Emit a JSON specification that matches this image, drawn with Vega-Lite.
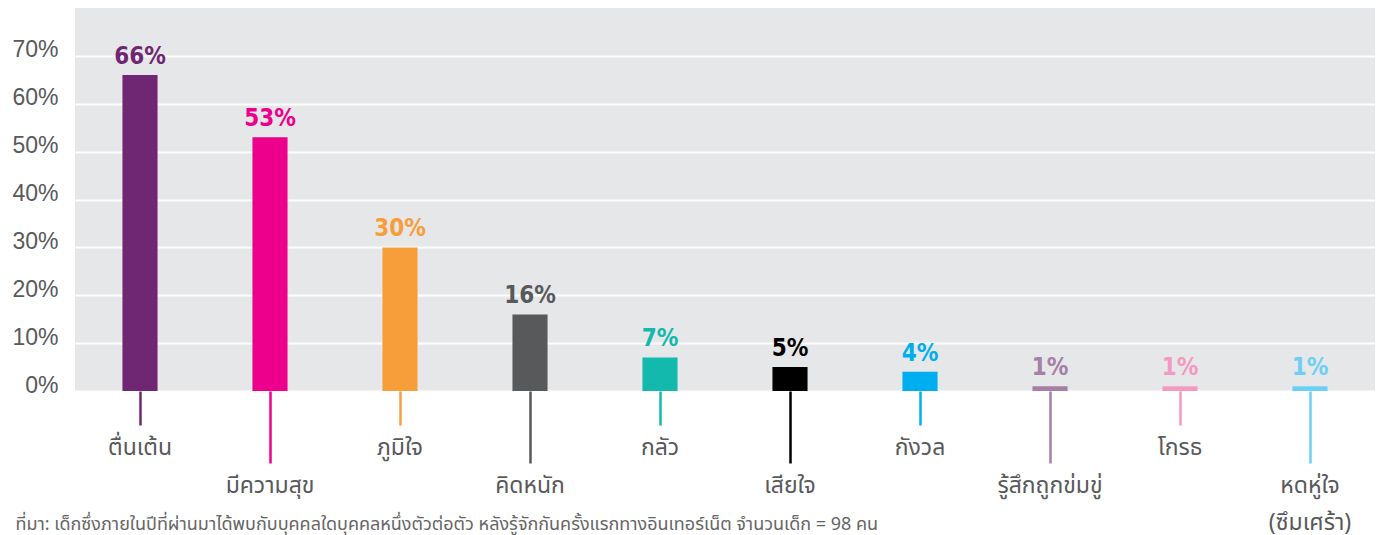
{
  "$schema": "https://vega.github.io/schema/vega-lite/v6.json",
  "width": 1300,
  "height": 383,
  "autosize": {"type": "none"},
  "padding": {"left": 75, "top": 8, "right": 4, "bottom": 144},
  "background": "white",
  "config": {"view": {"fill": "#E6E7E8", "stroke": null}},
  "data": {
    "values": [
      {"cat": "ตื่นเต้น", "pct": 0.66},
      {"cat": "มีความสุข", "pct": 0.53},
      {"cat": "ภูมิใจ", "pct": 0.30},
      {"cat": "คิดหนัก", "pct": 0.16},
      {"cat": "กลัว", "pct": 0.07},
      {"cat": "เสียใจ", "pct": 0.05},
      {"cat": "กังวล", "pct": 0.04},
      {"cat": "รู้สึกถูกข่มขู่", "pct": 0.01},
      {"cat": "โกรธ", "pct": 0.01},
      {"cat": "หดหู่ใจ (ซึมเศร้า)", "pct": 0.01}
    ]
  },
  "encoding": {
    "x": {
      "field": "cat",
      "type": "nominal",
      "sort": null,
      "scale": {"paddingInner": 0.73, "paddingOuter": 0.365},
      "axis": {
        "title": "ที่มา: เด็กซึ่งภายในปีที่ผ่านมาได้พบกับบุคคลใดบุคคลหนึ่งตัวต่อตัว หลังรู้จักกันครั้งแรกทางอินเทอร์เน็ต จำนวนเด็ก = 98 คน",
        "titleX": -60,
        "titleY": 138,
        "titleAnchor": "start",
        "titleAlign": "left",
        "titleBaseline": "alphabetic",
        "titleFont": "Noto Sans Thai, Noto Sans, sans-serif",
        "titleFontSize": 18,
        "titleFontWeight": "normal",
        "titleColor": "#666666",
        "domain": false,
        "ticks": true,
        "tickColor": {"expr": "scale('color', datum.value)"},
        "tickSize": {"expr": "indexof(domain('x'), datum.value) % 2 ? 72 : 34"},
        "tickWidth": 2.5,
        "labelPadding": 11,
        "labelFont": "Noto Sans Thai, Noto Sans, sans-serif",
        "labelFontSize": 23,
        "labelColor": "#58595B",
        "labelExpr": "datum.label == 'หดหู่ใจ (ซึมเศร้า)' ? ['หดหู่ใจ', '(ซึมเศร้า)'] : datum.label",
        "labelLineHeight": 37,
        "labelOverlap": false,
        "labelAngle": 0,
        "labelBaseline": "top",
        "labelLimit": 0
      }
    },
    "y": {
      "field": "pct",
      "type": "quantitative",
      "scale": {"domain": [0, 0.8], "nice": false},
      "axis": {
        "title": null,
        "values": [0, 0.1, 0.2, 0.3, 0.4, 0.5, 0.6, 0.7],
        "format": ".0%",
        "domain": false,
        "ticks": false,
        "tickSize": 0,
        "labelPadding": 17,
        "labelFont": "Liberation Sans",
        "labelFontSize": 23,
        "labelColor": "#58595B",
        "labelBaseline": "alphabetic",
        "labelOffset": 1,
        "grid": true,
        "gridColor": "#FFFFFF",
        "gridWidth": 2
      }
    },
    "color": {
      "field": "cat",
      "type": "nominal",
      "sort": null,
      "scale": {
        "domain": ["ตื่นเต้น", "มีความสุข", "ภูมิใจ", "คิดหนัก", "กลัว", "เสียใจ", "กังวล", "รู้สึกถูกข่มขู่", "โกรธ", "หดหู่ใจ (ซึมเศร้า)"],
        "range": ["#6F2673", "#EC008C", "#F79E3B", "#58595B", "#13B9AD", "#000000", "#00AEEF", "#A67EA6", "#F49AC1", "#6DCFF6"]
      },
      "legend": null
    }
  },
  "layer": [
    {"mark": {"type": "bar"}},
    {
      "mark": {"type": "text", "dy": -11, "baseline": "alphabetic", "font": "DejaVu Sans Condensed, Liberation Sans Narrow, sans-serif", "fontWeight": "bold", "fontSize": 24},
      "encoding": {"text": {"field": "pct", "type": "quantitative", "format": ".0%"}}
    }
  ]
}
